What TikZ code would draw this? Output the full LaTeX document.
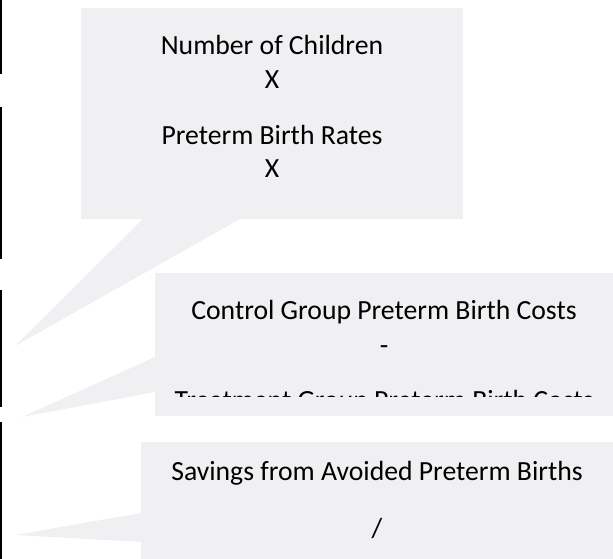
\documentclass[tikz,border=0pt]{standalone}
\usepackage{fontspec}
\setmainfont{Carlito}
\usepackage{tikz}
\usetikzlibrary{positioning}

\definecolor{calloutgray}{RGB}{240,240,242}

\begin{document}
\begin{tikzpicture}[x=1pt, y=-1pt,
calloutbox/.style={rectangle, fill=calloutgray, draw=none, inner sep=0pt, anchor=north west},
calloutline/.style={font=\fontsize{27.7}{33}\selectfont, anchor=base, inner sep=0pt},
edgebar/.style={draw=black, line width=1.5pt}
]
    \useasboundingbox (0,0) rectangle (613,559);

    %Tips
    \coordinate (tipA) at (15,346);
    \coordinate (tipB) at (22,417);
    \coordinate (tipC) at (15,535);

    %Boxes
    \node[calloutbox, minimum width=382pt, minimum height=211pt]
        (countbox) at (81,8) {};
    \node[calloutbox, minimum width=458pt, minimum height=143pt]
        (diffbox) at (155,273) {};
    \node[calloutbox, minimum width=472pt, minimum height=117pt]
        (savebox) at (141,442) {};

    %Tails
    \fill[calloutgray] (143,219) -- (tipA) -- (240,219) -- cycle;
    \fill[calloutgray] (155,357) -- (tipB) -- (155,392) -- cycle;
    \fill[calloutgray] (141,513) -- (tipC) -- (141,542) -- cycle;

    %Texts
    \node[calloutline] (numkids)  at (272,55)  {Number of Children};
    \node[calloutline] (timesA)   at (272,89)  {X};
    \node[calloutline] (ptbrate)  at (272,145) {Preterm Birth Rates};
    \node[calloutline] (timesB)   at (272,178) {X};
    \node[calloutline] (ctrlcost) at (384,319) {Control Group Preterm Birth Costs};
    \node[calloutline] (minus)    at (384,354) {-};
    \begin{scope}
        \clip (155,273) rectangle (613,396);
        \node[calloutline] (treatcost) at (384,409) {Treatment Group Preterm Birth Costs};
    \end{scope}
    \node[calloutline] (savings)  at (377,480) {Savings from Avoided Preterm Births};
    \node[calloutline] (divide)   at (377,537) {/};

    %Edge bars
    \draw[edgebar] (0.75,0) -- (0.75,74);
    \draw[edgebar] (0.75,107) -- (0.75,259);
    \draw[edgebar] (0.75,290) -- (0.75,407);
    \draw[edgebar] (0.75,422) -- (0.75,559);
\end{tikzpicture}
\end{document}
